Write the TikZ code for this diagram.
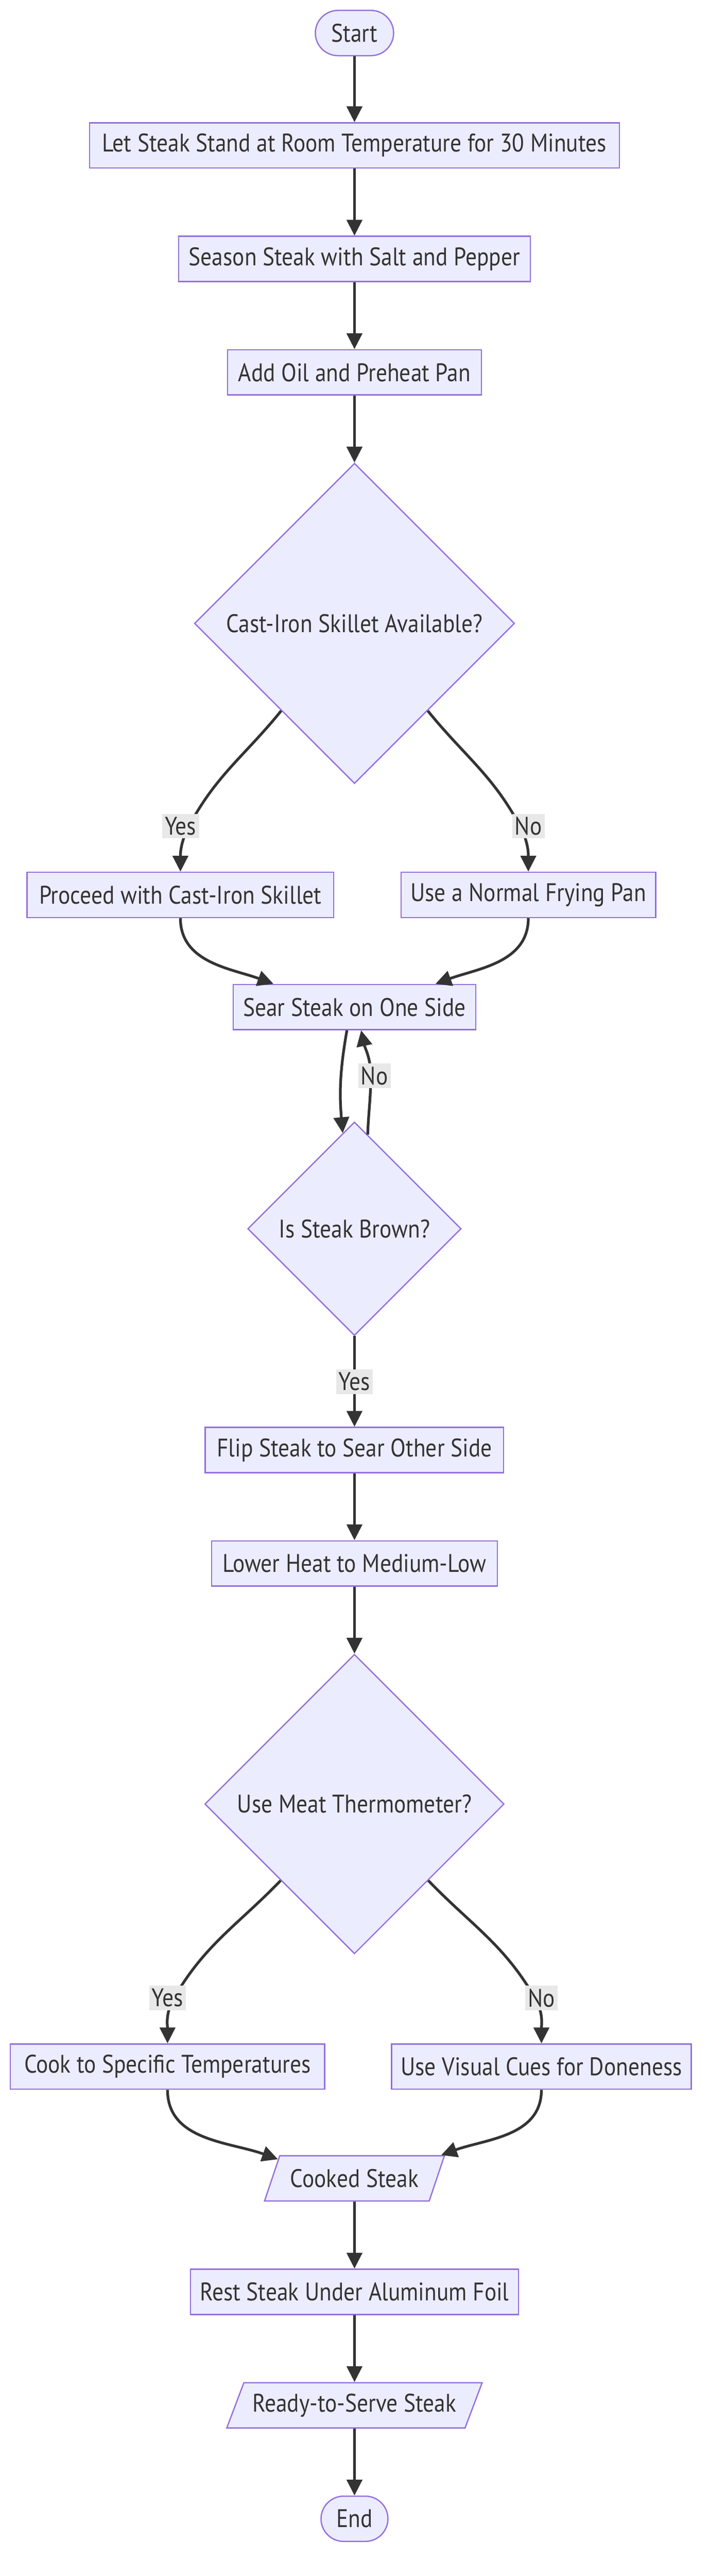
\documentclass[tikz,border=0pt]{standalone}
\usepackage{fontspec}
\setmainfont{PT Sans}[FakeStretch=0.88]
\usepackage{tikz}
\usetikzlibrary{shapes}
\usetikzlibrary{positioning}
\usetikzlibrary{arrows.meta}
\definecolor{nodefill}{HTML}{ECECFF}
\definecolor{nodeline}{HTML}{9370DB}
\definecolor{edgeline}{HTML}{333333}
\definecolor{labelbg}{HTML}{E8E8E8}

\begin{document}
\begin{tikzpicture}[font=\fontsize{16}{19}\selectfont, text=edgeline,
	box/.style={rectangle, minimum height=1cm, draw=nodeline, fill=nodefill, line width=0.8pt},
	term/.style={box, rounded corners=0.5cm},
	decision/.style={diamond, draw=nodeline, fill=nodefill, line width=0.8pt, inner sep=0pt},
	io/.style={trapezium, trapezium left angle=64, trapezium right angle=116, trapezium stretches=true, minimum height=1cm, draw=nodeline, fill=nodefill, line width=0.8pt},
	link/.style={draw=edgeline, line width=1.7pt},
	flow/.style={link, -{Triangle[length=3.5mm, width=3.4mm]}},
	answer/.style={fill=labelbg, inner xsep=0.6mm, inner ysep=0pt, minimum height=0.54cm}]
	\useasboundingbox (0,0) rectangle (15.68,-56.94);
	\node[term, minimum width=1.73cm] (start) at (7.84,-0.73) {Start};
	\node[box, minimum width=11.72cm] (stand) at (7.84,-3.215) {Let Steak Stand at Room Temperature for 30 Minutes};
	\node[box, minimum width=7.78cm, below=1.48cm of stand] (season) {Season Steak with Salt and Pepper};
	\node[box, minimum width=5.61cm, below=1.48cm of season] (preheat) {Add Oil and Preheat Pan};
	\node[decision, minimum width=7.08cm, minimum height=7.08cm, below=1.48cm of preheat] (skillet) {Cast-Iron Skillet Available?};
	\node[box, minimum width=6.78cm] (castiron) at (3.99,-19.78) {Proceed with Cast-Iron Skillet};
	\node[box, minimum width=5.63cm] (frypan) at (11.685,-19.78) {Use a Normal Frying Pan};
	\node[box, minimum width=5.36cm] (sear) at (7.84,-22.26) {Sear Steak on One Side};
	\node[decision, minimum width=4.72cm, minimum height=4.72cm] (brown) at (7.84,-27.16) {Is Steak Brown?};
	\node[box, minimum width=6.60cm] (flip) at (7.84,-32.05) {Flip Steak to Sear Other Side};
	\node[box, minimum width=6.32cm, below=1.48cm of flip] (lower) {Lower Heat to Medium-Low};
	\node[decision, minimum width=6.62cm, minimum height=6.62cm, below=1.48cm of lower] (thermo) {Use Meat Thermometer?};
	\node[box, minimum width=6.95cm] (temps) at (3.705,-45.68) {Cook to Specific Temperatures};
	\node[box, minimum width=6.63cm] (visual) at (11.975,-45.68) {Use Visual Cues for Doneness};
	\node[io, minimum width=3.98cm] (cooked) at (7.84,-48.15) {Cooked Steak};
	\node[box, minimum width=7.25cm, below=1.48cm of cooked] (rest) {Rest Steak Under Aluminum Foil};
	\node[io, minimum width=5.66cm, below=1.48cm of rest] (ready) {Ready-to-Serve Steak};
	\node[term, minimum width=1.48cm, below=1.48cm of ready] (finish) {End};
	\coordinate (yes1) at (4.18,-18.26);
	\coordinate (no1) at (11.50,-18.26);
	\coordinate (no2) at (8.20,-23.78);
	\coordinate (yes3) at (3.85,-44.16);
	\coordinate (no3) at (11.83,-44.16);
	\draw[flow] (start) -- (stand);
	\draw[flow] (stand) -- (season);
	\draw[flow] (season) -- (preheat);
	\draw[flow] (preheat) -- (skillet);
	\draw[link] (skillet.230) to[out=231, in=62] (yes1);
	\draw[flow] (yes1) to[out=242, in=90] (castiron);
	\draw[link] (skillet.310) to[out=-51, in=118] (no1);
	\draw[flow] (no1) to[out=-62, in=90] (frypan);
	\draw[flow] (castiron) to[out=-90, in=160] (sear.164);
	\draw[flow] (frypan) to[out=-90, in=20] (sear.16);
	\draw[flow] (sear.252) to[out=-100, in=95] (brown.97);
	\draw[link] (brown.82) to[out=88, in=-90] (no2);
	\draw[flow] (no2) to[out=90, in=-78] (sear.286);
	\draw[flow] (brown) -- (flip);
	\draw[flow] (flip) -- (lower);
	\draw[flow] (lower) -- (thermo);
	\draw[link] (thermo.226) to[out=226, in=60] (yes3);
	\draw[flow] (yes3) to[out=240, in=90] (temps);
	\draw[link] (thermo.314) to[out=-46, in=120] (no3);
	\draw[flow] (no3) to[out=-60, in=90] (visual);
	\draw[flow] (temps) to[out=-90, in=160] (cooked.166);
	\draw[flow] (visual) to[out=-90, in=20] (cooked.15);
	\draw[flow] (cooked) -- (rest);
	\draw[flow] (rest) -- (ready);
	\draw[flow] (ready) -- (finish);
	\node[answer] (yes1label) at (3.995,-18.26) {Yes};
	\node[answer] (no1label) at (11.685,-18.26) {No};
	\node[answer] (no2label) at (8.28,-23.78) {No};
	\node[answer] (yes2label) at (7.84,-30.54) {Yes};
	\node[answer] (yes3label) at (3.705,-44.16) {Yes};
	\node[answer] (no3label) at (11.975,-44.16) {No};
\end{tikzpicture}
\end{document}
